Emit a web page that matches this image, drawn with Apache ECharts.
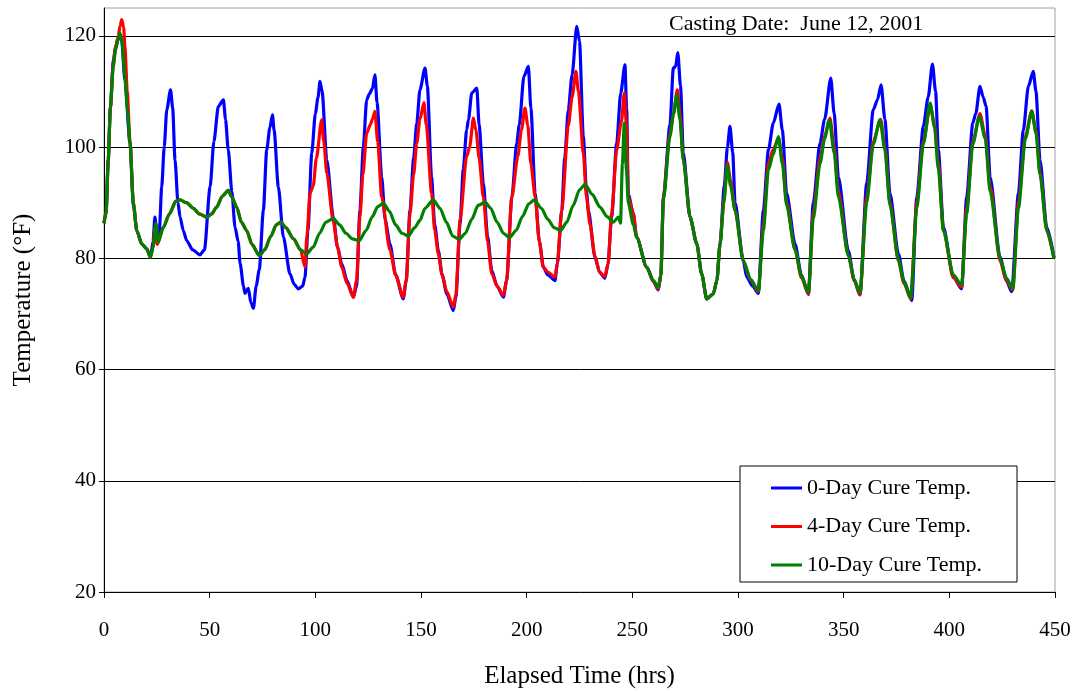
<!DOCTYPE html>
<html>
<head>
<meta charset="utf-8">
<script src="https://cdn.jsdelivr.net/npm/echarts@6/dist/echarts.min.js"></script>
<style>
  html, body { margin: 0; padding: 0; background: #fff; }
  #chart { width: 1077px; height: 694px; }
</style>
</head>
<body>
<div id="chart"></div>
<script>
// Concrete temperature records (°F) against elapsed time (hrs) for three cure regimes.
const seriesNames = ['0-Day Cure Temp.', '4-Day Cure Temp.', '10-Day Cure Temp.'];
const xTicks = [0, 50, 100, 150, 200, 250, 300, 350, 400, 450];
const yTicks = [20, 40, 60, 80, 100, 120];

const hours0 = [0,1,2,3,4.4,5.5,6.5,7.4,8.4,9.9,12.3,13.9,15.5,17.8,20.2,22,23.2,24.1,25.2,26.2,27.3,28.5,29.7,31.5,32.5,33.6,35,36,37.5,39.1,42,45.4,47.5,50.2,52,54.1,56.5,57.5,58.8,60.5,62,63.5,64.4,66,66.7,68.3,69.5,70.7,72,73.5,75.4,77,78.5,79.7,80.5,82.5,84.9,88,90,92,94,95.1,96.5,98.3,100,101.3,102.2,103.2,105.4,108.5,110.5,112.5,115,118,119.5,121.1,122.7,124.3,125.5,127,128.2,129.2,131.4,133,135.3,138,141.6,143,144.8,146.5,148,149.5,151.9,153,155,156.5,158.2,160,162.2,165.3,166.5,168.5,170,171.6,172.5,174,176.4,177.5,179.5,181.5,183.5,186,189,190.5,193,195.3,196.5,198.7,200.8,202,204,206,207.9,210,213.4,214.5,216.6,218,219.7,221.5,223.7,225,226.8,228.3,229.2,232.3,234.5,237,238.5,240.2,242.6,244.5,246.5,247.3,248.1,250.5,252,256.8,260,262.3,263.5,264.7,267.8,269.4,270.5,271.5,272.8,274.1,277.3,280.5,282.8,285.2,288.3,290,291.5,293.5,295,296.2,297.5,298.6,302.5,304.1,307,309.6,312,314.4,316.7,319.4,321,323,327,330,333.3,335.6,338.8,341,343.9,345.5,347.5,352.2,355,357.7,360.9,364,366,367.7,369.5,371.9,375.9,378.5,382.2,384.6,387.7,390,392,393.5,394.8,397.2,401.9,405.8,408.2,411.1,412.5,414.5,416,417.4,419.3,424,427,429.5,432.7,435,437.4,439.7,441,442.9,446.1,449.5];
const temp0 = [86.3,88.5,97.7,107,115.5,118,119.3,120,119,112,100.7,89.5,85,82.6,81.7,80.2,83,87.4,83.2,85,92.8,100,106.7,110.3,107,97.7,90,87.4,85,83.2,81.5,80.6,81.5,92.8,101,107.3,108.5,105,99.5,92,85.6,83,79.1,75,73.7,74.6,72,71,75,78,88.6,99.5,103.5,105.8,103,92.8,83.8,77.2,75.3,74.5,75,76.6,85,98.9,106,109,111.8,110,97.7,87.4,82,79,76,73,75,88.6,100,108.5,109.5,110.5,113,108,94.6,87,82.6,77,72.7,76,88.6,98,104.3,110.3,114.2,111,94.6,86,81.4,77,73.6,70.6,73,86.3,96,103.1,105,109.7,110.6,104,93.5,84,77.8,75,73,76,91,100.7,104,112.7,114.5,107,91.7,83,78.4,77,76,79,88.6,98,106.7,113,121.7,119,101.9,92,88.6,80.2,77.5,76.4,79,87.4,100.7,109.7,114.8,107,91.5,88,83.8,78.4,75.8,74.3,77,91,104,114.2,114.5,117,111,99,87.4,82.6,77.2,72.7,73.6,76,82.6,93,100,103.7,99,90,79.6,76.6,75,73.7,88.6,99.5,104.3,107.7,103,91.7,82.6,77,73.5,89.9,100.7,105,112.4,106,94.6,81.4,76,73.4,93.5,106.7,108.5,111.2,105,91.7,80.8,76,72.4,91,103.7,109,114.9,110,99.5,85.6,76.6,74.5,91,104.3,106,110.9,109,107.3,94.6,80.2,76,74,91.7,103,110.9,113.6,110,97.7,85.6,80.2];

const hours4 = [0,1,2,3,4.4,5.5,6.8,7.6,8.4,9.3,9.9,11,12.3,13.9,15.5,17.8,20.2,22,23.2,24.1,25.2,28,31,34,36,39,42.3,45,48.6,51,53.3,56,58.8,60.5,62.8,65,67.5,70,73.5,76,79,81.5,83.6,86,89.7,93,95.1,96,97.5,99,100.5,103,104,105.4,108.5,110.5,112.5,115,118,119.5,121.1,122.5,124.3,126,127,128.2,129.5,131.4,135.3,138,141.6,143,144.8,146.5,148,149.5,151.4,152.5,155,156.5,158.2,160,162.2,165.3,166.5,168.5,171.6,173,174.8,176,177.5,179.5,181.5,183.5,186,189,190.5,193,195.8,197.5,199.2,200.5,202,204,206,207.9,210,213.4,214.5,216.6,219.7,221.5,223.3,224.5,226.8,228.3,230,232.3,234.5,237,238.5,240.2,242.6,244.8,246.2,247.2,248.1,250.5,252,256.8,260,262.3,263.5,264.7,267.8,269.5,271.3,272.5,274.1,277.3,280.5,282.8,285.2,288.3,290,291.5,293.5,295,296.5,298.6,302.5,306,309.6,312,314.4,316.5,319.2,321,323,327,330,333.3,335.6,338.8,341,343.5,345.5,347.5,352.2,355,357.7,360.9,364,367.5,369.5,371.9,375.9,378.5,381.7,384.6,387.7,391,393,394.8,397.2,401.9,405.8,408.2,411.1,414.5,417,419.3,424,427,430,432.7,436,439,441,442.9,446.1,449.5];
const temp4 = [86.3,88.5,97.7,107,115,118,120,121.8,122.9,121.5,118,110,101,90,85,82.6,81.7,80.2,82,85.5,82.5,85.5,88,90.3,90.5,90,89,88,87.4,88,89.2,91.2,92.2,91,89.2,86.5,85,82.5,80.5,81.5,84,86,86.5,85.5,83.5,81.5,78.4,84,91.7,93,98,104.9,101,95.3,86.6,82,78.4,75.5,73,76,87.4,95,102.5,104,105,106.4,101,91,81.5,77,73,76,88,95,100.7,105,108,104,91.7,85,80.8,77,74,71.2,73.5,87,98.3,100,105.2,103,98,91,83,77.2,75,73.3,76,91,98.3,103,107,104,97,91,83,78.4,77.5,76.6,79,88.6,103.8,109,113.6,110,99,91,86,80.5,77.5,76.7,79,88,99.5,104.5,109.7,104,91,88,83.8,78.4,75.8,74.5,77,91,102.5,106,110.3,106,97.7,87.4,82.6,77.2,72.7,73.6,76,82.6,91,97.2,94,88.6,79.6,76,74,86,97,99.5,101.5,98,90,81.5,76.5,73.6,88,98,102,105.2,100,92,80.5,76,73.5,91,101,105,100,90,79.5,75.5,72.7,90,101,107.5,104,97,85,76.5,74.8,89,101,106,102,93,79.5,76,74.3,90,102,106.5,103,95.5,85,80];

const hours10 = [0,1,2,3,4.4,5.5,6.8,7.6,8.5,9.9,11,12.3,13.9,15.5,17.8,20.2,22,23.2,24.6,25.7,28,31,34,36,39,42.3,45,48.6,51,53.3,56,58.8,60.5,62.8,65,67.5,70,73.5,76,79,81.5,83.6,86,89.7,93,95.9,99,102,105,108.5,111.5,114.5,117.5,120.8,124,127,129.5,132.2,135,138,141,144,147,149.5,151.9,155.8,159,162,165,168.1,171,174,177,180.3,183,186,189,191.8,195,198,201,203.6,207,210,213,216.1,219,222,225,227.6,231,234.7,238,241,243.4,244.4,245.3,246.2,247.2,248.1,250.5,252,256.8,260,262.3,263.5,264.7,267.8,269.5,271,272.5,274.1,277.3,280.5,282.8,285.2,288.3,290,291.5,293.3,294.9,296.5,298.6,302.5,306,309.6,312,314.4,316.5,319.1,321,323,327,330,333.3,335.6,338.8,341,343.2,345.5,347.5,352.2,355,357.7,360.9,364,367.2,369.5,371.9,375.9,378.5,381.7,384.6,387.7,390.9,393,394.8,397.2,401.9,405.8,408.2,411.1,414.2,417,419.3,424,427,430,432.7,436,439,441,442.9,446.1,449.5];
const temp10 = [86.3,88,97.7,107,114.5,117.5,119.6,120.5,119,112.7,107,100.7,89.9,85,82.6,81.7,80.2,82,86.3,82.9,85.5,88,90.3,90.5,90,89,88,87.4,88,89.2,91.2,92.2,91,89.2,86.5,85,82.5,80.5,81.5,84,86,86.5,85.5,83.5,81.5,80.8,82,84.5,86.5,87.2,86,84.5,83.5,83.2,85,87.5,89.3,89.9,88.5,86,84.5,84,85.5,86.8,89,90.5,89,86.5,84,83.4,84.5,87,89.5,90.1,89,86.5,84.5,83.7,85,87.5,89.8,90.5,89,87,85.5,85,86.5,89.5,92.3,93.3,91.5,89.2,87.5,86.5,87.4,86.3,97,104.3,96,89.9,86,83.8,78.4,76,74.8,77,90.5,101.9,106,109.4,105,97.7,87.4,82.6,77.2,72.7,73.6,76,82.6,90,96.8,93,88.6,79.6,76.2,74.2,85,95.9,98.5,101.9,97,89.5,81.5,76.8,73.9,87,97,101.5,104.9,99,91,80.5,76.2,73.8,90,100.5,104.9,99.5,89.5,79.8,75.8,72.9,89,100.5,107.9,103.5,96,85,77,75.2,88,100.5,105.5,101.5,92,80,76.5,74.5,89,101.5,106.4,102.5,95,85,80];

const colors = ['#0000ff', '#ff0000', '#008000'];

function pairs(xs, ys) {
  return xs.map(function (x, i) { return [x, ys[i]]; });
}

const serif = '"Liberation Serif", "Times New Roman", serif';
const chart = echarts.init(document.getElementById('chart'), null, { renderer: 'canvas' });

const lineSeries = [[hours0, temp0], [hours4, temp4], [hours10, temp10]].map(function (d, i) {
  return {
    name: seriesNames[i],
    type: 'line',
    data: pairs(d[0], d[1]),
    showSymbol: false,
    smooth: 0.25,
    smoothMonotone: 'x',
    lineStyle: { color: colors[i], width: 3.2 },
    itemStyle: { color: colors[i] },
    z: 2 + i,
    animation: false
  };
});

chart.setOption({
  backgroundColor: '#fff',
  animation: false,
  textStyle: { fontFamily: serif, color: '#000' },
  title: {
    text: 'Casting Date:  June 12, 2001',
    left: 664,
    top: 8,
    textStyle: { fontFamily: serif, fontSize: 22, fontWeight: 'normal', color: '#000' }
  },
  grid: {
    left: 104, right: 22, top: 8, bottom: 102,
    show: true, borderColor: '#a0a0a0', borderWidth: 1, backgroundColor: 'transparent'
  },
  legend: {
    orient: 'vertical',
    left: 740,
    top: 466,
    backgroundColor: '#fff',
    borderColor: '#000',
    borderWidth: 1,
    borderRadius: 0,
    padding: [11, 35, 6, 31],
    itemGap: 16.5,
    itemWidth: 31,
    itemHeight: 3,
    icon: 'rect',
    textStyle: { fontFamily: serif, fontSize: 22, color: '#000' },
    data: seriesNames
  },
  xAxis: {
    type: 'value',
    min: 0, max: 450, interval: 50,
    name: 'Elapsed Time (hrs)',
    nameLocation: 'middle',
    nameGap: 72,
    nameTextStyle: { fontFamily: serif, fontSize: 25, color: '#000' },
    axisLine: { show: true, lineStyle: { color: '#000', width: 1 } },
    axisTick: { show: true, inside: false, length: 6, lineStyle: { color: '#000' } },
    axisLabel: { fontFamily: serif, fontSize: 21, color: '#000', margin: 28 },
    splitLine: { show: false }
  },
  yAxis: {
    type: 'value',
    min: 20, max: 125, interval: 20,
    name: 'Temperature (°F)',
    nameLocation: 'middle',
    nameGap: 68,
    nameRotate: 90,
    nameTextStyle: { fontFamily: serif, fontSize: 25, color: '#000' },
    axisLine: { show: true, lineStyle: { color: '#000', width: 1 } },
    axisTick: { show: true, inside: false, length: 5, lineStyle: { color: '#000' } },
    axisLabel: {
      fontFamily: serif, fontSize: 21, color: '#000', margin: 8,
      showMaxLabel: false,
      formatter: function (v) { return yTicks.indexOf(v) >= 0 ? String(v) : ''; }
    },
    splitLine: { show: true, showMinLine: false, showMaxLine: false, lineStyle: { color: '#000', width: 1 } }
  },
  series: lineSeries
});
</script>
</body>
</html>
